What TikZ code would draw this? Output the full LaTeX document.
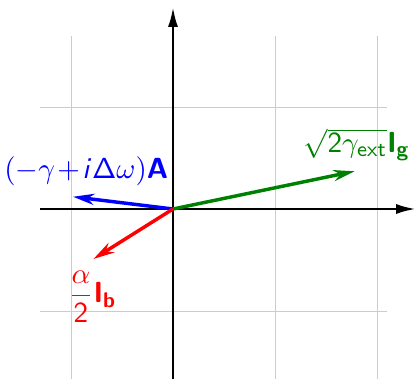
\documentclass[tikz,border=0pt]{standalone}
\usetikzlibrary{arrows.meta}
\DeclareMathAlphabet{\mathssit}{OT1}{cmss}{m}{sl}
\DeclareMathAlphabet{\mathssup}{OT1}{cmss}{m}{n}
\DeclareMathAlphabet{\mathssbf}{OT1}{cmss}{bx}{n}
\begin{document}
\begin{tikzpicture}[scale=1.35,
    axis/.style={line width=1pt, -{Latex[length=7.5pt, width=3.8pt]}},
    vec/.style={line width=1.3pt, -{Stealth[length=8pt, width=4.2pt]}},
    lbl/.style={inner sep=1pt, font=\fontsize{10.8}{13}\selectfont}]
    \useasboundingbox (-1.696,-1.667) rectangle (2.382,2.049);

    % Gitter
    \draw[gray!40, line width=0.35pt] (-1.3,-1.667) grid (2.1,1.7);

    % Achsen
    \coordinate (O) at (0,0);
    \draw[axis] (-1.3,0) -- (2.382,0);
    \draw[axis] (0,-1.667) -- (0,1.98);

    % Zeiger
    \coordinate (a) at (-0.98, 0.12);
    \coordinate (g) at (1.78, 0.37);
    \coordinate (b) at (-0.78, -0.49);
    \draw[vec, blue] (O) -- (a);
    \draw[vec, green!50!black] (O) -- (g);
    \draw[vec, red] (O) -- (b);

    % Beschriftungen
    \node[lbl, blue] (la) at (-0.85, 0.37) {$\medmuskip=1.5mu(-\gamma+\mathssit{i}\mathssup{\Delta}\omega)\mathssbf{A}$};
    \node[lbl, green!50!black] (lg) at (1.80, 0.63) {$\sqrt{\mathssup{2}\gamma_{\mathssup{ext}}}\mathssbf{I_g}$};
    \node[lbl, red] (lb) at (-0.79, -0.86) {$\displaystyle\frac{\alpha}{\mathssup{2}}\mathssbf{I_b}$};

\end{tikzpicture}
\end{document}
